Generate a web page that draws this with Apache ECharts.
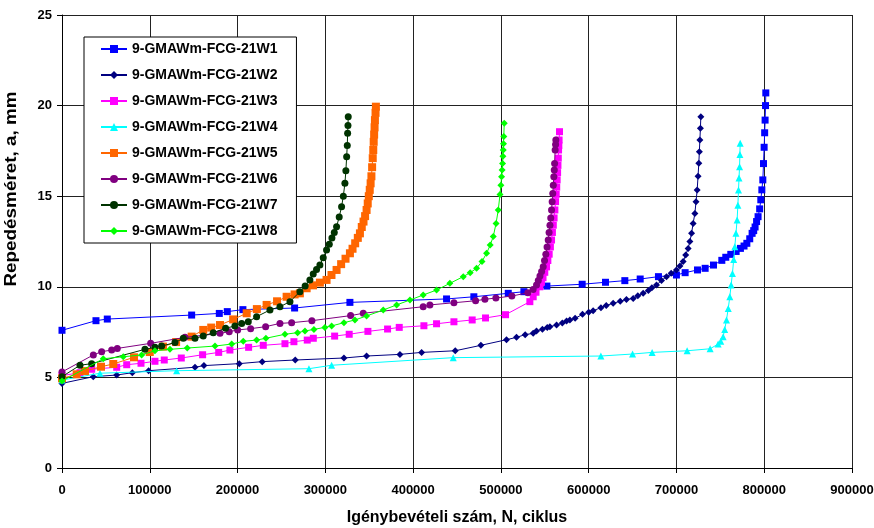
<!DOCTYPE html>
<html>
<head>
<meta charset="utf-8">
<script src="https://cdn.jsdelivr.net/npm/echarts@6/dist/echarts.min.js"></script>
<style>
  html, body { margin: 0; padding: 0; background: #fff; }
  #chart { width: 874px; height: 528px; }
</style>
</head>
<body>
<div id="chart"></div>
<script>
// tengely
const xTicks = [0, 100000, 200000, 300000, 400000, 500000, 600000, 700000, 800000, 900000]
const yTicks = [0, 5, 10, 15, 20, 25]

const names = ['9-GMAWm-FCG-21W1', '9-GMAWm-FCG-21W2', '9-GMAWm-FCG-21W3', '9-GMAWm-FCG-21W4',
  '9-GMAWm-FCG-21W5', '9-GMAWm-FCG-21W6', '9-GMAWm-FCG-21W7', '9-GMAWm-FCG-21W8']

// W1
const w1N = [0, 38700, 51600, 147700, 179200, 188300, 206100, 265000, 328000, 438100, 469200, 508400, 526200, 552400, 592600, 619200, 641200, 658700, 679500, 700000, 709900, 724000, 732700, 742200, 751700, 756200, 761900, 768000, 772900, 777000, 780200, 783500, 786200, 788000, 789600, 791300, 793000, 794800, 796100, 797300, 798400, 799200, 799900, 800500, 801000, 801500, 801800]
const w1A = [7.6, 8.13, 8.22, 8.44, 8.53, 8.63, 8.74, 8.83, 9.14, 9.33, 9.45, 9.64, 9.73, 10.04, 10.14, 10.25, 10.34, 10.43, 10.56, 10.65, 10.78, 10.93, 11.02, 11.2, 11.46, 11.63, 11.79, 11.95, 12.12, 12.25, 12.4, 12.65, 12.95, 13.1, 13.3, 13.6, 13.87, 14.3, 14.8, 15.35, 15.9, 16.8, 17.7, 18.5, 19.2, 20.0, 20.7]

// W2
const w2N = [0, 35600, 62300, 80100, 98700, 151500, 161700, 201900, 228100, 265700, 321200, 347000, 385000, 409700, 448000, 477200, 506400, 517800, 527700, 536800, 540600, 547300, 552800, 555800, 563400, 570000, 574800, 578600, 584600, 593000, 600000, 605100, 614000, 620000, 627900, 636000, 643000, 650700, 656000, 662100, 668000, 672000, 677300, 683000, 688700, 694000, 700000, 704000, 707600, 710500, 713300, 715300, 717200, 719000, 721000, 722300, 723600, 724600, 725500, 726100, 726700, 727300, 727800]
const w2A = [4.67, 5.04, 5.13, 5.26, 5.37, 5.56, 5.65, 5.76, 5.87, 5.96, 6.07, 6.18, 6.27, 6.38, 6.47, 6.77, 7.08, 7.21, 7.36, 7.43, 7.56, 7.66, 7.76, 7.8, 7.89, 8.0, 8.11, 8.17, 8.26, 8.48, 8.6, 8.68, 8.85, 8.97, 9.09, 9.2, 9.3, 9.36, 9.5, 9.64, 9.8, 9.95, 10.1, 10.35, 10.56, 10.75, 10.93, 11.15, 11.39, 11.75, 12.12, 12.5, 12.95, 13.5, 14.05, 14.7, 15.34, 16.1, 16.82, 17.45, 18.1, 18.75, 19.39]

// W3
const w3N = [0, 20500, 33800, 62300, 73700, 90000, 105900, 116500, 135900, 160200, 178500, 191300, 212600, 229300, 254000, 264200, 279400, 286300, 310600, 327200, 348500, 370900, 384200, 412300, 426700, 446500, 467300, 482500, 505300, 533000, 536800, 540000, 544400, 546200, 548000, 550000, 552000, 553500, 555000, 556400, 557700, 558700, 559700, 560600, 561500, 562300, 563000, 563600, 564100, 564600, 565000, 565400, 565700, 566000, 566300, 566800]
const w3A = [5.1, 5.26, 5.45, 5.56, 5.7, 5.78, 5.89, 5.96, 6.07, 6.25, 6.38, 6.51, 6.66, 6.77, 6.86, 6.97, 7.06, 7.16, 7.28, 7.38, 7.54, 7.67, 7.76, 7.85, 7.96, 8.07, 8.17, 8.28, 8.46, 9.18, 9.45, 9.7, 10.0, 10.25, 10.5, 10.8, 11.1, 11.45, 11.8, 12.2, 12.58, 13.0, 13.4, 13.8, 14.24, 14.7, 15.1, 15.5, 15.9, 16.3, 16.7, 17.1, 17.55, 17.8, 18.1, 18.56]

// W4
const w4N = [0, 43300, 130600, 281300, 307200, 445700, 613900, 650000, 672300, 712200, 738400, 747500, 750500, 753200, 755000, 757000, 759000, 760800, 762300, 763800, 765200, 766500, 767800, 769100, 770000, 770700, 771300, 771900, 772300, 772600]
const w4A = [4.85, 5.23, 5.37, 5.48, 5.67, 6.09, 6.18, 6.29, 6.38, 6.47, 6.58, 6.84, 7.0, 7.25, 7.65, 8.17, 8.8, 9.45, 10.1, 10.74, 11.5, 12.21, 12.95, 13.69, 14.5, 15.34, 16.0, 16.63, 17.3, 17.92]

// W5
const w5N = [0, 16700, 26200, 44400, 58400, 82000, 100000, 115000, 130000, 147700, 160900, 170000, 180000, 195000, 210400, 222000, 233100, 245000, 255900, 265000, 271000, 278700, 286000, 293800, 301400, 307000, 312800, 318000, 323000, 328000, 331000, 334000, 337000, 339400, 341500, 343500, 345300, 347000, 348300, 349500, 350600, 351600, 352500, 353300, 354000, 354600, 355100, 355600, 356100, 356500, 357200, 357600]
const w5A = [4.95, 5.17, 5.35, 5.59, 5.74, 6.11, 6.4, 6.7, 6.95, 7.25, 7.62, 7.75, 7.89, 8.2, 8.54, 8.77, 9.0, 9.2, 9.45, 9.58, 9.64, 9.92, 10.08, 10.23, 10.38, 10.65, 10.93, 11.25, 11.55, 11.85, 12.1, 12.4, 12.7, 12.95, 13.3, 13.6, 13.9, 14.24, 14.6, 15.0, 15.35, 15.71, 16.1, 16.6, 17.1, 17.55, 18.0, 18.4, 18.8, 19.2, 19.6, 19.94]

// W6
const w6N = [0, 35700, 45200, 56600, 63000, 101000, 140100, 180000, 190500, 200100, 214900, 232000, 248300, 261600, 284700, 328800, 343200, 411500, 419100, 446500, 471200, 481800, 494300, 512500, 530700, 536700, 540600, 542600, 544500, 546400, 548200, 549700, 551200, 552600, 553900, 554900, 555900, 556800, 557700, 558400, 559100, 559700, 560300, 560800, 561200, 561800, 562300, 562600]
const w6A = [5.3, 6.24, 6.42, 6.51, 6.6, 6.88, 7.21, 7.43, 7.52, 7.62, 7.69, 7.8, 7.98, 8.02, 8.13, 8.41, 8.54, 8.9, 9.0, 9.12, 9.23, 9.31, 9.38, 9.49, 9.67, 9.85, 10.1, 10.35, 10.6, 10.85, 11.1, 11.45, 11.8, 12.2, 12.58, 13.0, 13.4, 13.8, 14.24, 14.7, 15.15, 15.6, 16.08, 16.45, 16.8, 17.55, 17.85, 18.1]

// W7
const w7N = [0, 20500, 33800, 94500, 105900, 113500, 128700, 138200, 151500, 160900, 172300, 186400, 197000, 204700, 212200, 221700, 236900, 248300, 259700, 271000, 277000, 282400, 286200, 290000, 293800, 297600, 301400, 304500, 307500, 310200, 312800, 315800, 318500, 320500, 322300, 323400, 324300, 325000, 325400, 325800, 326100]
const w7A = [5.04, 5.67, 5.76, 6.55, 6.66, 6.73, 6.92, 7.16, 7.16, 7.28, 7.47, 7.71, 7.84, 7.98, 8.07, 8.35, 8.72, 8.9, 9.18, 9.73, 10.05, 10.38, 10.7, 10.95, 11.2, 11.6, 12.03, 12.35, 12.7, 13.0, 13.32, 13.85, 14.42, 15.0, 15.71, 16.4, 17.18, 17.8, 18.47, 18.9, 19.39]

// W8
const w8N = [0, 47000, 69800, 90700, 105900, 123000, 142700, 174300, 193300, 206500, 221700, 232300, 254000, 268400, 276800, 287000, 299500, 307200, 321200, 333700, 347000, 366000, 381200, 396400, 411500, 426700, 441900, 457100, 465000, 472300, 478500, 483700, 487800, 491300, 494500, 497000, 499000, 500000, 500800, 501400, 501900, 502300, 502700, 503000, 503300, 503800]
const w8A = [4.8, 6.03, 6.14, 6.24, 6.47, 6.55, 6.62, 6.73, 6.84, 6.99, 7.06, 7.16, 7.38, 7.47, 7.56, 7.65, 7.76, 7.84, 8.02, 8.17, 8.39, 8.72, 9.0, 9.27, 9.55, 9.82, 10.19, 10.56, 10.78, 11.02, 11.4, 11.85, 12.3, 12.77, 13.5, 14.24, 15.1, 15.6, 16.08, 16.45, 16.8, 17.2, 17.55, 17.9, 18.3, 19.02]

const allN = [w1N, w2N, w3N, w4N, w5N, w6N, w7N, w8N]
const allA = [w1A, w2A, w3A, w4A, w5A, w6A, w7A, w8A]
const colors = ['#0000FF', '#000080', '#FF00FF', '#00FFFF', '#FF6600', '#800080', '#003300', '#00FF00']
const symbols = ['rect', 'diamond', 'rect', 'triangle', 'rect', 'circle', 'circle', 'diamond']
const sizes = [7, 7, 7, 7, 8, 7, 7, 7]

const font = 'Liberation Sans, Arial, sans-serif'

const chart = echarts.init(document.getElementById('chart'))

const series = names.map((name, i) => ({
  name: name,
  type: 'line',
  data: allN[i].map((n, k) => [n, allA[i][k]]),
  symbol: symbols[i],
  symbolSize: sizes[i],
  showAllSymbol: true,
  itemStyle: { color: colors[i] },
  lineStyle: { color: colors[i], width: 1 },
  z: 2 + i
}))

chart.setOption({
  animation: false,
  textStyle: { fontFamily: font },
  grid: { left: 62, right: 22, top: 15, bottom: 60, containLabel: false, outerBoundsMode: 'none' },
  legend: {
    orient: 'vertical',
    left: 84,
    top: 37,
    backgroundColor: '#fff',
    borderColor: '#000',
    borderWidth: 1,
    padding: [5, 19, 5, 16],
    itemGap: 12,
    itemWidth: 26,
    itemHeight: 10,
    textStyle: { fontFamily: font, fontWeight: 'bold', fontSize: 14, color: '#000' },
    data: names
  },
  xAxis: {
    type: 'value',
    min: xTicks[0],
    max: xTicks[xTicks.length - 1],
    interval: 100000,
    name: 'Igénybevételi szám, N, ciklus',
    nameLocation: 'middle',
    nameGap: 42,
    nameTextStyle: { fontFamily: font, fontWeight: 'bold', fontSize: 16, color: '#000' },
    axisLine: { show: true, lineStyle: { color: '#000', width: 1 } },
    axisTick: { show: true, length: 5, lineStyle: { color: '#000' } },
    axisLabel: {
      fontFamily: font, fontWeight: 'bold', fontSize: 13, color: '#000', margin: 16,
      formatter: (v) => String(v)
    },
    splitLine: { show: true, lineStyle: { color: '#222', width: 1 } }
  },
  yAxis: {
    type: 'value',
    min: yTicks[0],
    max: yTicks[yTicks.length - 1],
    interval: 5,
    axisLine: { show: true, lineStyle: { color: '#000', width: 1 } },
    axisTick: { show: true, length: 5, lineStyle: { color: '#000' } },
    axisLabel: { fontFamily: font, fontWeight: 'bold', fontSize: 13, color: '#000', margin: 10 },
    splitLine: { show: true, lineStyle: { color: '#222', width: 1 } }
  },
  graphic: [{
    type: 'text',
    x: 12,
    y: 189,
    rotation: Math.PI / 2,
    scaleX: 1.18,
    style: {
      text: 'Repedésméret, a, mm',
      fontFamily: font,
      fontWeight: 'bold',
      fontSize: 16,
      fill: '#000',
      align: 'center',
      verticalAlign: 'middle'
    }
  }],
  series: series
})
</script>
</body>
</html>
